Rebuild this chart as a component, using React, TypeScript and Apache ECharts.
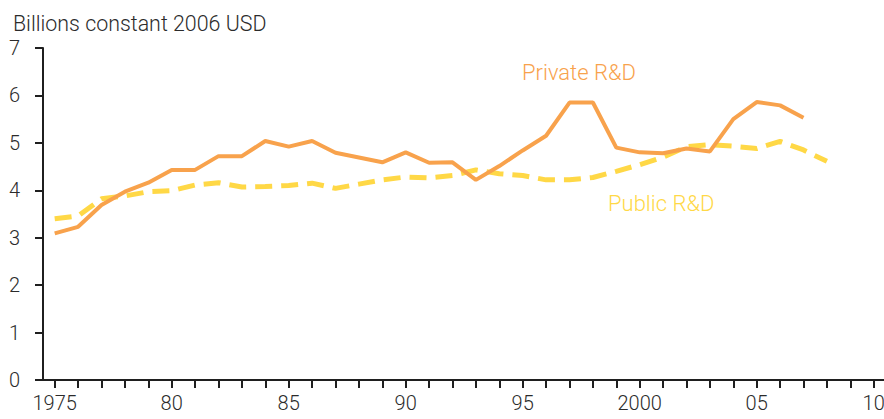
import React, { useEffect, useRef } from "react";
import * as echarts from "echarts";

const years: number[] = [];
for (let y = 1975; y <= 2010; y++) years.push(y);

const privateRD: (number | null)[] = [
  3.09, 3.23, 3.69, 3.97, 4.16, 4.43, 4.43, 4.72, 4.72, 5.04,
  4.92, 5.04, 4.79, 4.69, 4.59, 4.80, 4.58, 4.59, 4.22, 4.51,
  4.84, 5.15, 5.85, 5.85, 4.90, 4.80, 4.78, 4.88, 4.82, 5.50,
  5.86, 5.79, 5.53, null, null, null,
];

const publicRD: (number | null)[] = [
  3.40, 3.46, 3.82, 3.88, 3.97, 3.99, 4.11, 4.16, 4.07, 4.08,
  4.10, 4.15, 4.04, 4.13, 4.22, 4.28, 4.26, 4.31, 4.43, 4.35,
  4.31, 4.22, 4.22, 4.27, 4.40, 4.54, 4.70, 4.92, 4.96, 4.93,
  4.88, 5.03, 4.85, 4.61, null, null,
];

const yTicks = { min: 0, max: 7, interval: 1 };

const labelFor = (y: number) =>
  y === 1975 || y === 2000 ? String(y) : String(y).slice(2);

const FONT = "Roboto";
const TEXT = "#2b2b2b";
const AXIS = "#1f1f1f";

export default function App() {
  const ref = useRef<HTMLDivElement>(null);
  useEffect(() => {
    if (!ref.current) return;
    const chart = echarts.init(ref.current, null, { renderer: "svg" });
    chart.setOption({
      animation: false,
      backgroundColor: "#ffffff",
      textStyle: { fontFamily: FONT },
      title: {
        text: "Billions constant 2006 USD",
        left: 8,
        top: 8,
        textStyle: { fontFamily: FONT, fontSize: 21.4, fontWeight: 300, color: TEXT },
      },
      grid: {
        left: 43,
        top: 48,
        right: -1.4,
        bottom: 39,
        containLabel: false,
        outerBoundsMode: "none",
      },
      xAxis: {
        type: "category",
        data: years.map(String),
        boundaryGap: true,
        axisLine: { show: true, lineStyle: { color: AXIS, width: 2 } },
        axisTick: {
          show: true,
          inside: false,
          length: 8,
          alignWithLabel: true,
          interval: 0,
          lineStyle: { color: AXIS, width: 2 },
        },
        axisLabel: {
          interval: (i: number) => i % 5 === 0,
          formatter: (v: string) => labelFor(Number(v)),
          fontFamily: FONT,
          fontSize: 20,
          fontWeight: 300,
          color: TEXT,
          margin: 13,
        },
        splitLine: { show: false },
      },
      yAxis: {
        type: "value",
        min: yTicks.min,
        max: yTicks.max,
        interval: yTicks.interval,
        axisLine: { show: true, lineStyle: { color: AXIS, width: 2 } },
        axisTick: { show: true, inside: false, length: 8, lineStyle: { color: AXIS, width: 2 } },
        axisLabel: {
          fontFamily: FONT,
          fontSize: 20,
          fontWeight: 300,
          color: TEXT,
          margin: 23,
        },
        splitLine: { show: false },
      },
      series: [
        {
          name: "Public R&D",
          type: "line",
          data: publicRD,
          symbol: "none",
          connectNulls: false,
          lineStyle: { color: "#FFD846", width: 5, type: [17, 9] },
          z: 2,
        },
        {
          name: "Private R&D",
          type: "line",
          data: privateRD,
          symbol: "none",
          lineStyle: { color: "#F8A24C", width: 4 },
          z: 3,
        },
      ],
      graphic: [
        {
          type: "text",
          left: 522,
          top: 61,
          style: {
            text: "Private R&D",
            fill: "#F8A24C",
            font: `300 22px ${FONT}`,
          },
        },
        {
          type: "text",
          left: 608,
          top: 192,
          style: {
            text: "Public R&D",
            fill: "#FFD846",
            font: `300 22px ${FONT}`,
          },
        },
      ],
    });
    return () => chart.dispose();
  }, []);
  return <div ref={ref} style={{ width: 884, height: 419, position: "absolute", left: 0, top: 0 }} />;
}
